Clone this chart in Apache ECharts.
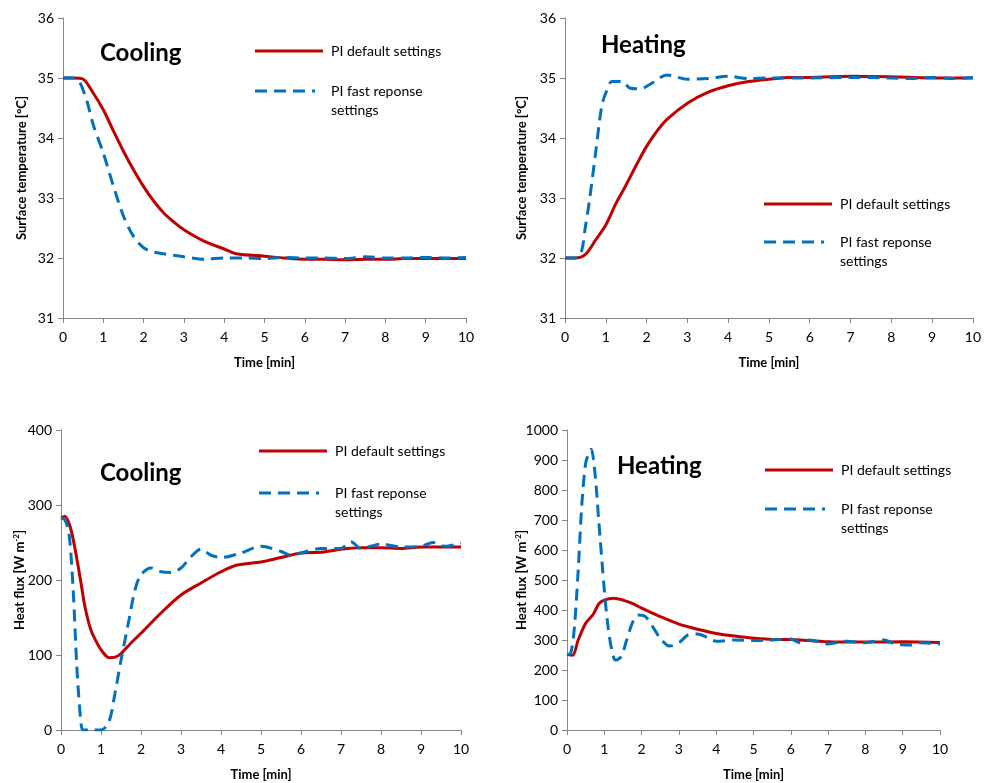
<!DOCTYPE html>
<html><head><meta charset="utf-8">
<script src="https://cdn.jsdelivr.net/npm/echarts@6/dist/echarts.min.js"></script>
<style>html,body{margin:0;padding:0;background:#fff}#c{width:984px;height:783px}</style>
</head><body><div id="c"></div>
<script>
// Top-left: Cooling surface temperature
const coolTempDefault = [[0,35],[0.25,35],[0.5,34.98],[0.75,34.75],[1,34.47],[1.25,34.12],[1.5,33.78],[1.75,33.47],[2,33.19],[2.25,32.95],[2.5,32.75],[2.75,32.6],[3,32.47],[3.5,32.28],[4,32.15],[4.3,32.07],[5,32.03],[5.5,32.0],[6,31.98],[6.5,31.98],[7,31.97],[7.5,31.98],[8,31.98],[8.5,31.99],[9,31.99],[9.5,31.99],[10,31.99]];
const coolTempFast = [[0,35],[0.25,35],[0.4,34.95],[0.6,34.6],[0.75,34.22],[1,33.75],[1.25,33.2],[1.5,32.7],[1.75,32.36],[2,32.17],[2.25,32.1],[2.5,32.07],[3,32.02],[3.5,31.98],[4,32.0],[4.5,32.0],[5,31.99],[5.5,32.01],[6,32.0],[6.5,32.0],[7,31.99],[7.5,32.02],[8,32.0],[8.5,32.0],[9,32.01],[9.5,32.0],[10,32.01]];
// Top-right: Heating surface temperature
const heatTempDefault = [[0,32],[0.25,32.0],[0.5,32.06],[0.75,32.3],[1,32.55],[1.25,32.91],[1.5,33.22],[1.75,33.55],[2,33.86],[2.25,34.11],[2.5,34.31],[3,34.58],[3.5,34.76],[4,34.87],[4.5,34.94],[5,34.98],[5.5,35.01],[6,35.01],[7,35.03],[8,35.02],[9,35.0],[10,35.0]];
const heatTempFast = [[0,32],[0.25,32.0],[0.4,32.1],[0.5,32.52],[0.6,32.96],[0.75,33.75],[0.9,34.53],[1,34.75],[1.15,34.94],[1.4,34.94],[1.6,34.83],[1.85,34.82],[2.1,34.9],[2.5,35.05],[3,34.98],[3.5,34.99],[4,35.03],[4.5,34.99],[5,35.0],[6,35.0],[7,35.01],[8,35.0],[8.5,34.99],[9,35.01],[9.5,34.99],[10,35.01]];
// Bottom-left: Cooling heat flux
const coolFluxDefault = [[0,283],[0.1,285],[0.25,267],[0.4,227],[0.5,196],[0.6,164],[0.75,133],[0.9,116],[1,107],[1.2,96.5],[1.35,97],[1.5,102],[1.75,116],[2,129],[2.5,156],[3,180],[3.5,196],[4,211],[4.4,220],[5,224],[5.5,230],[6,236],[6.5,237],[7,241],[7.5,243],[8,243],[8.5,242],[9,244],[9.5,244],[10,244]];
const coolFluxFast = [[0,283],[0.1,280],[0.2,262],[0.3,191],[0.4,80],[0.5,9],[0.55,0],[0.75,0],[1,0],[1.2,11],[1.35,49],[1.5,93],[1.7,147],[1.85,187],[2,207],[2.25,216],[2.5,211],[2.75,210],[3,216],[3.25,231],[3.5,241],[3.75,233],[4,230],[4.5,236],[5,245],[5.5,238],[5.75,233],[6,236],[6.5,242],[7,242],[7.25,251],[7.5,242],[8,248],[8.5,244],[9,245],[9.3,250],[9.6,245],[10,249]];
// Bottom-right: Heating heat flux
const heatFluxDefault = [[0,252],[0.15,249],[0.3,300],[0.5,356],[0.7,385],[0.85,420],[1,433],[1.25,439],[1.5,433],[1.75,422],[2,406],[2.5,378],[3,353],[3.5,336],[4,322],[4.5,313],[5,306],[5.5,302],[6,302],[6.5,298],[7,294],[8,293],[9,294],[10,292]];
const heatFluxFast = [[0,252],[0.1,256],[0.2,344],[0.3,533],[0.4,756],[0.5,889],[0.6,928],[0.65,936],[0.75,856],[0.85,700],[1,467],[1.1,344],[1.2,267],[1.3,233],[1.45,244],[1.6,300],[1.75,356],[1.9,383],[2.1,378],[2.3,344],[2.5,306],[2.75,280],[3,291],[3.25,317],[3.5,320],[3.75,309],[4,296],[4.5,300],[5,298],[5.5,300],[6,303],[6.25,291],[6.5,300],[7,287],[7.5,296],[8,291],[8.5,300],[8.8,287],[9.2,283],[9.5,291],[10,287]];

const panelTitles = ['Cooling','Heating','Cooling','Heating'];
const seriesNames = ['PI default settings','PI fast reponse'];
const seriesNameLine2 = 'settings';
const yNames = ['Surface temperature [°C]','Surface temperature [°C]','{n|Heat flux [W m}{s|-2}{n|]}','{n|Heat flux [W m}{s|-2}{n|]}'];
const xName = 'Time [min]';

const FONT = 'Lato, "Open Sans", sans-serif';
const RED = '#C00000', BLUE = '#0070C0';
const grids = [
  {left:63, top:18, width:403, height:300},
  {left:565, top:18, width:410, height:300},
  {left:61, top:430, width:400, height:300},
  {left:567, top:430, width:373, height:300}
];
const yCfg = [
  {min:31,max:36,interval:1},
  {min:31,max:36,interval:1},
  {min:0,max:400,interval:100},
  {min:0,max:1000,interval:100}
];
const yGaps = [35, 37, 33, 37];
const axisLine = {show:true, lineStyle:{color:'#868686', width:1}};
const xAxes = grids.map((g,i)=>({
  type:'value', gridIndex:i, min:0, max:10, interval:1,
  axisLine, axisTick:{show:true, inside:false, length:5, lineStyle:{color:'#868686'}},
  splitLine:{show:false},
  axisLabel:{color:'#000', fontSize:14, fontFamily:FONT, margin:12},
  name:xName, nameLocation:'middle', nameGap:38, nameMoveOverlap:false,
  nameTextStyle:{color:'#000', fontSize:13, fontWeight:'bold', fontFamily:FONT}
}));
const yAxes = grids.map((g,i)=>({
  type:'value', gridIndex:i, min:yCfg[i].min, max:yCfg[i].max, interval:yCfg[i].interval,
  axisLine, axisTick:{show:true, inside:false, length:5, lineStyle:{color:'#868686'}},
  splitLine:{show:false},
  axisLabel:{color:'#000', fontSize:14, fontFamily:FONT, margin:9, formatter:(v)=>String(v)},
  name:yNames[i], nameLocation:'middle', nameRotate:90, nameGap:yGaps[i], nameMoveOverlap:false,
  nameTextStyle:{color:'#000', fontSize:13, fontWeight:'bold', fontFamily:FONT,
    rich:{n:{fontSize:13,fontWeight:'bold',fontFamily:FONT,color:'#000'},
          s:{fontSize:8,fontWeight:'bold',fontFamily:FONT,color:'#000',verticalAlign:'top',lineHeight:16}}}
}));
const dataSets = [[coolTempDefault,coolTempFast],[heatTempDefault,heatTempFast],[coolFluxDefault,coolFluxFast],[heatFluxDefault,heatFluxFast]];
const series = [];
dataSets.forEach((pair,i)=>{
  series.push({type:'line', name:seriesNames[0], xAxisIndex:i, yAxisIndex:i, data:pair[0], showSymbol:false, symbol:'none',
    smooth:0.3, lineStyle:{color:RED, width:3}, z:2});
  series.push({type:'line', name:seriesNames[1], xAxisIndex:i, yAxisIndex:i, data:pair[1], showSymbol:false, symbol:'none',
    smooth:0.3, lineStyle:{color:BLUE, width:3, type:[12,7]}, z:3});
});

const legPos = [
  {x:255, y1:51, y2:91, title:[100,53]},
  {x:764, y1:204, y2:242, title:[601,45]},
  {x:259, y1:451, y2:493, title:[100,473]},
  {x:765, y1:470, y2:509, title:[617,466]}
];
const graphic = [];
legPos.forEach((p,i)=>{
  graphic.push({type:'text', x:p.title[0], y:p.title[1], style:{text:panelTitles[i], font:'bold 24px '+FONT, fill:'#000', verticalAlign:'middle'}});
  graphic.push({type:'line', shape:{x1:p.x,y1:p.y1,x2:p.x+68,y2:p.y1}, style:{stroke:RED, lineWidth:3}});
  graphic.push({type:'line', shape:{x1:p.x,y1:p.y2,x2:p.x+60,y2:p.y2}, style:{stroke:BLUE, lineWidth:3, lineDash:[12,7]}});
  graphic.push({type:'text', x:p.x+76, y:p.y1, style:{text:seriesNames[0], font:'14px '+FONT, fill:'#000', verticalAlign:'middle'}});
  graphic.push({type:'text', x:p.x+76, y:p.y2, style:{text:seriesNames[1], font:'14px '+FONT, fill:'#000', verticalAlign:'middle'}});
  graphic.push({type:'text', x:p.x+76, y:p.y2+19, style:{text:seriesNameLine2, font:'14px '+FONT, fill:'#000', verticalAlign:'middle'}});
});

const chart = echarts.init(document.getElementById('c'), null, {renderer:'canvas'});
chart.setOption({
  animation:false, backgroundColor:'#fff',
  grid:grids, xAxis:xAxes, yAxis:yAxes, series, graphic
});
</script></body></html>
